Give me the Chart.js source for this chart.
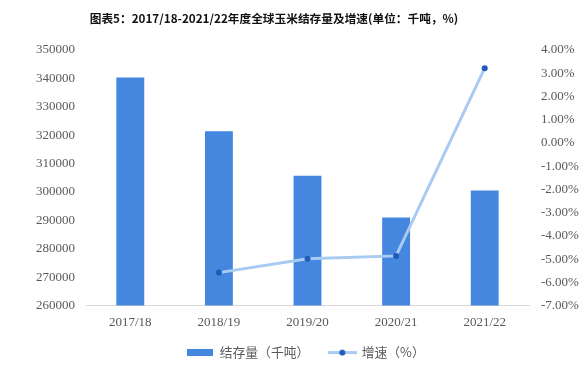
<!DOCTYPE html>
<html>
<head>
<meta charset="utf-8">
<script src="https://cdn.jsdelivr.net/npm/chart.js@4/dist/chart.umd.min.js"></script>
<style>
  html, body { margin: 0; padding: 0; background: #ffffff; }
  #wrap { width: 584px; height: 373px; position: relative; }
</style>
</head>
<body>
<div id="wrap"><canvas id="c" width="584" height="373"></canvas></div>
<script>
const categories = ['2017/18', '2018/19', '2019/20', '2020/21', '2021/22'];
const stocks = [340300, 321400, 305700, 291000, 300500];
const growth = [null, -5.58, -4.98, -4.86, 3.22];
const titleText = '图表5：2017/18-2021/22年度全球玉米结存量及增速(单位：千吨，%)';
const seriesNames = ['结存量（千吨）', '增速（%）'];

const barColor = '#4586de';
const lineColor = '#a8caf3';
const pointColor = '#1d5cb8';
const tickColor = '#595959';

function makeRectIcon() {
  const c = document.createElement('canvas');
  c.width = 26; c.height = 7;
  const g = c.getContext('2d');
  g.fillStyle = barColor;
  g.fillRect(0, 0, 26, 7);
  return c;
}
function makeLineIcon() {
  const c = document.createElement('canvas');
  c.width = 29; c.height = 9;
  const g = c.getContext('2d');
  g.strokeStyle = lineColor;
  g.lineWidth = 3;
  g.beginPath(); g.moveTo(0, 4.5); g.lineTo(29, 4.5); g.stroke();
  g.fillStyle = pointColor;
  g.beginPath(); g.arc(14.5, 4.5, 3, 0, Math.PI * 2); g.fill();
  return c;
}
const icons = [makeRectIcon(), makeLineIcon()];

const shiftPlugin = {
  id: 'shiftBlocks',
  afterLayout(chart) {
    if (chart.legend) { chart.legend.left += 14; chart.legend.right += 14; }
    if (chart.titleBlock) { chart.titleBlock.left -= 18; chart.titleBlock.right -= 18; }
  }
};

new Chart(document.getElementById('c'), {
  data: {
    labels: categories,
    datasets: [
      {
        type: 'line',
        label: seriesNames[1],
        data: growth,
        yAxisID: 'y1',
        borderColor: lineColor,
        borderWidth: 3,
        pointRadius: 3,
        pointBackgroundColor: pointColor,
        pointBorderColor: pointColor,
        pointBorderWidth: 0,
        tension: 0,
        spanGaps: false,
        order: 0
      },
      {
        type: 'bar',
        label: seriesNames[0],
        data: stocks,
        yAxisID: 'y',
        backgroundColor: barColor,
        categoryPercentage: 1.0,
        barPercentage: 0.315,
        order: 1
      }
    ]
  },
  options: {
    responsive: false,
    animation: false,
    layout: { padding: { left: 0, right: 0, top: 0, bottom: 4 } },
    plugins: {
      title: {
        display: true,
        text: titleText,
        color: '#111111',
        font: { family: '"Noto Sans CJK SC", "Noto Sans", sans-serif', size: 11.7, weight: 'bold' },
        padding: { top: 12, bottom: 24 }
      },
      legend: {
        display: true,
        position: 'bottom',
        labels: {
          color: tickColor,
          font: { family: '"Noto Sans CJK SC", "Noto Sans", sans-serif', size: 12.8 },
          usePointStyle: true,
          pointStyleWidth: 26,
          padding: 20,
          generateLabels(chart) {
            return [
              { text: seriesNames[0], pointStyle: icons[0], fillStyle: barColor, strokeStyle: barColor, lineWidth: 0, datasetIndex: 1, fontColor: tickColor },
              { text: seriesNames[1], pointStyle: icons[1], fillStyle: pointColor, strokeStyle: lineColor, lineWidth: 0, datasetIndex: 0, fontColor: tickColor }
            ];
          }
        }
      },
      tooltip: { enabled: false }
    },
    scales: {
      x: {
        grid: { display: false, drawTicks: false },
        border: { display: true, color: '#d9d9d9', width: 1 },
        ticks: {
          color: tickColor,
          font: { family: '"Liberation Serif", "Times New Roman", serif', size: 13 },
          padding: 9,
          maxRotation: 0
        },
        afterFit(axis) { axis.height -= 13; }
      },
      y: {
        position: 'left',
        min: 260000,
        max: 350000,
        grid: { display: false, drawTicks: false },
        border: { display: false },
        ticks: {
          stepSize: 10000,
          color: tickColor,
          font: { family: '"Liberation Serif", "Times New Roman", serif', size: 13 },
          padding: 11,
          callback: v => String(v)
        },
        afterFit(axis) { axis.width = 86; }
      },
      y1: {
        position: 'right',
        min: -7,
        max: 4,
        grid: { display: false, drawTicks: false },
        border: { display: false },
        ticks: {
          stepSize: 1,
          color: tickColor,
          font: { family: '"Liberation Serif", "Times New Roman", serif', size: 13 },
          padding: 12,
          callback: v => Number(v).toFixed(2) + '%'
        },
        afterFit(axis) { axis.width = 55; }
      }
    }
  },
  plugins: [shiftPlugin]
});
</script>
</body>
</html>
